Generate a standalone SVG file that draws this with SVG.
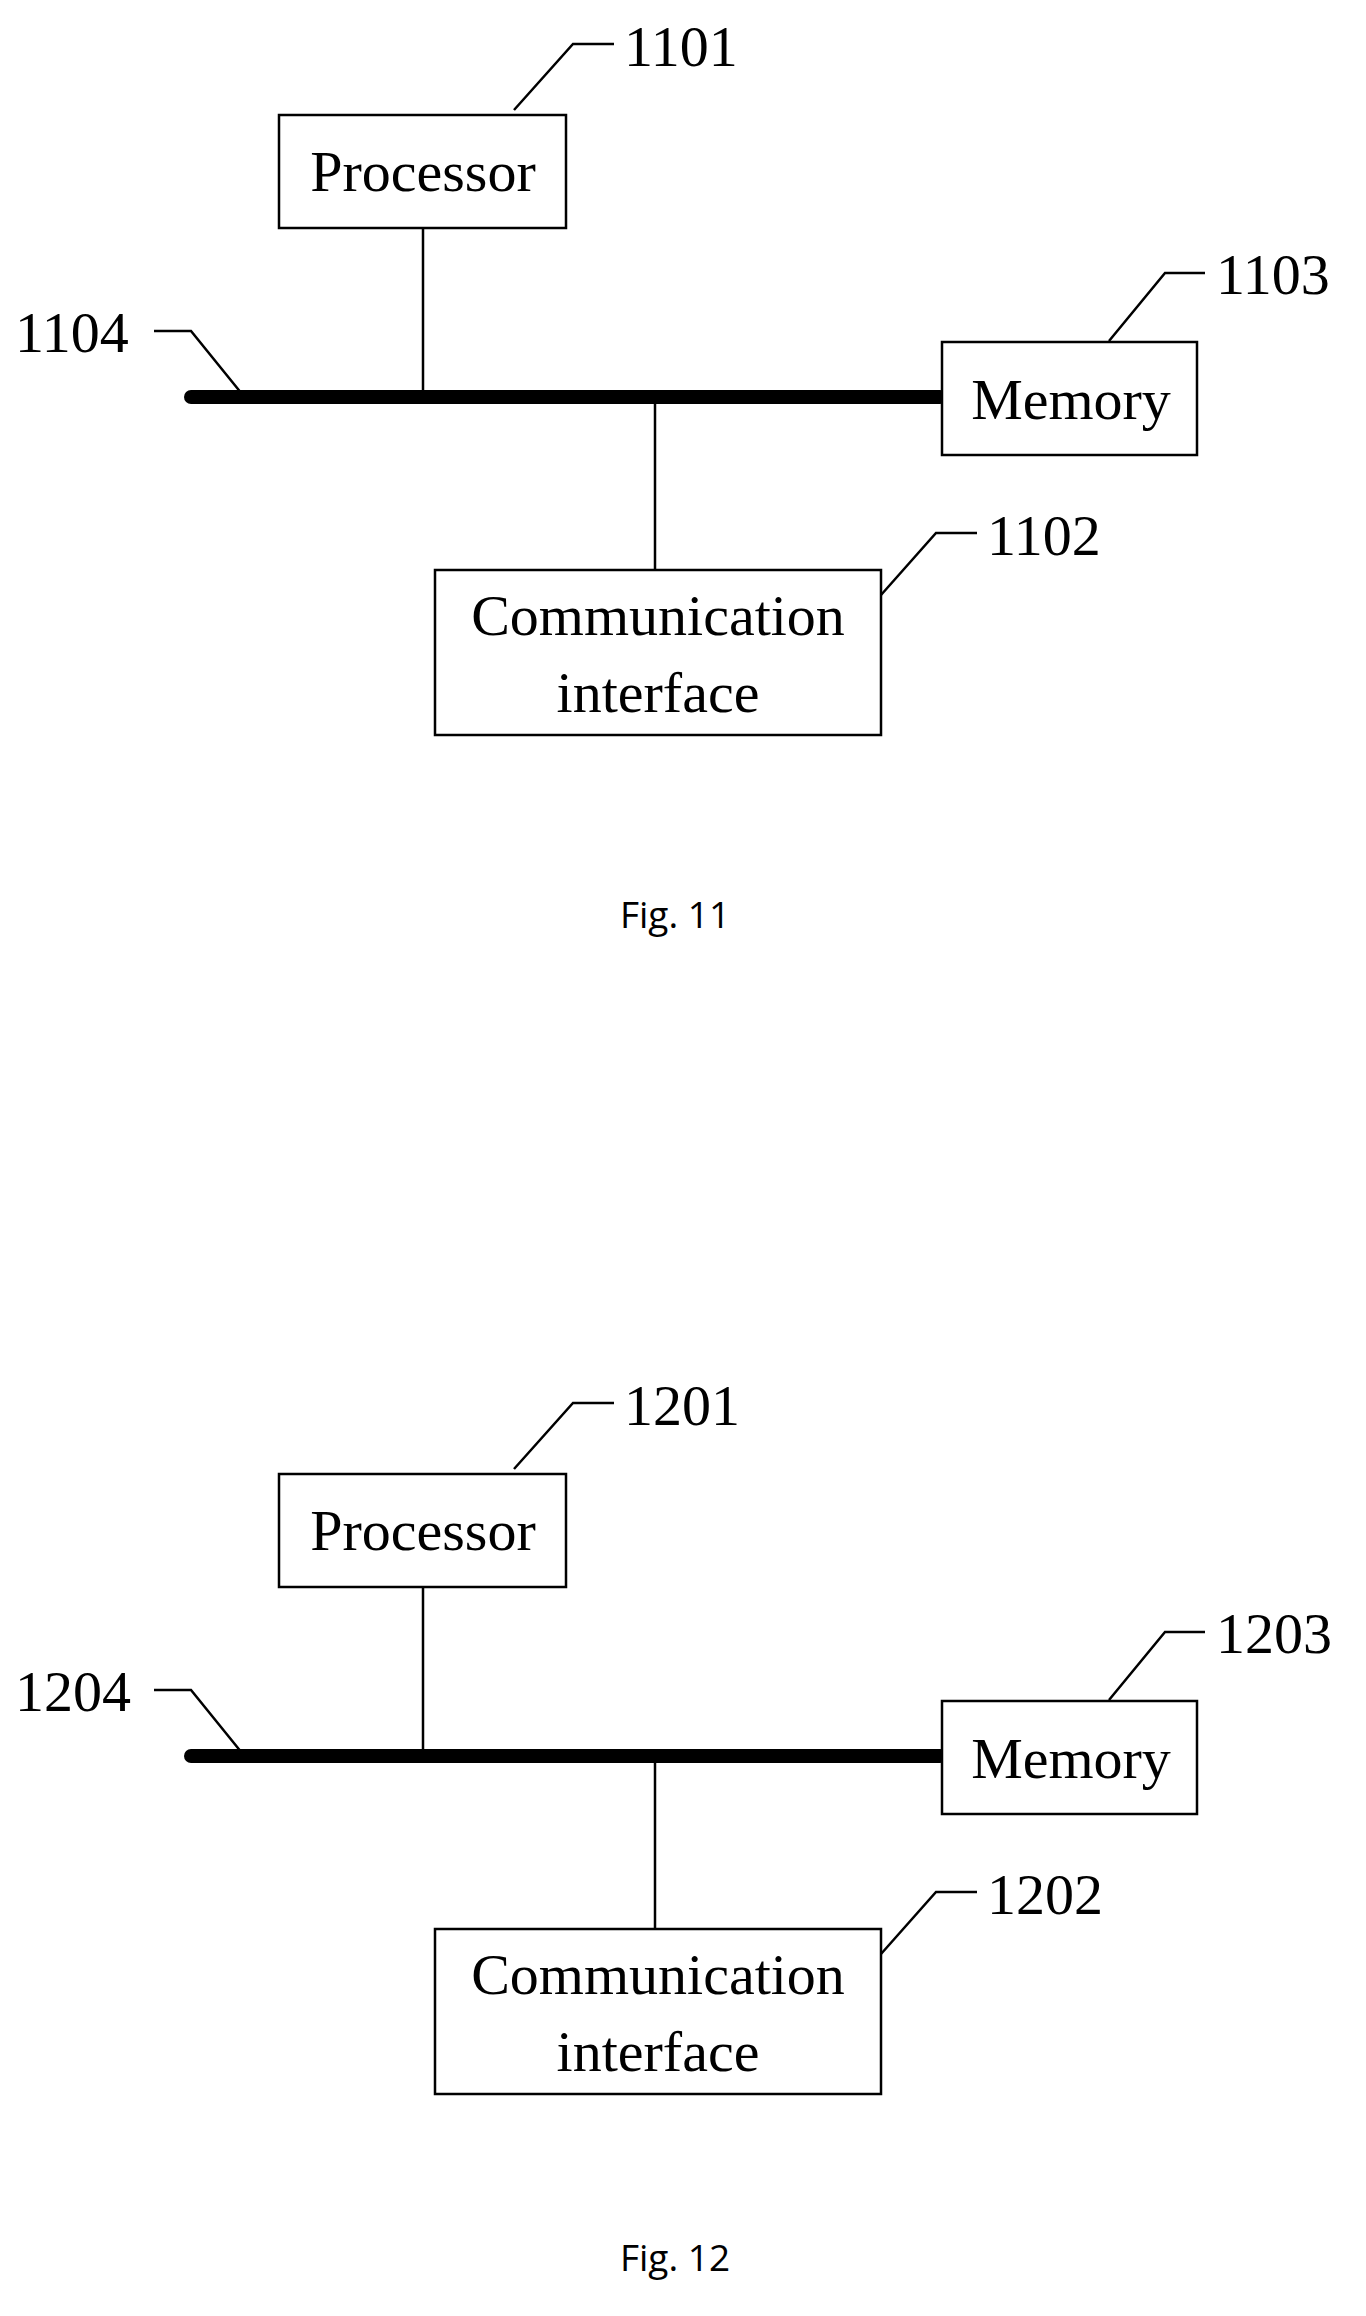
<svg xmlns="http://www.w3.org/2000/svg" width="1366" height="2316" viewBox="0 0 1366 2316">
<style>
.box{fill:#fff;stroke:#000;stroke-width:2.5}
.t{font-family:"Liberation Serif",serif;font-size:58px;fill:#000}
.c{font-family:"Open Sans","Liberation Sans",sans-serif;font-size:37px;fill:#000}
.ln{stroke:#000;stroke-width:2.5;fill:none}
.bus{stroke:#000;stroke-width:14;stroke-linecap:round}
</style>
<rect width="1366" height="2316" fill="#fff"/>
<g id="fig11">
<g id="connectors11">
<line class="ln" x1="423" y1="228" x2="423" y2="397"/>
<line class="ln" x1="655" y1="397" x2="655" y2="570"/>
<line class="bus" x1="191" y1="397" x2="940" y2="397"/>
<polyline class="ln" points="514,110 573,44 614,44"/>
<polyline class="ln" points="1109,341 1165,273 1205,273"/>
<polyline class="ln" points="154,331 191,331 242,394"/>
<polyline class="ln" points="881,595 936,533 977,533"/>
</g>
<g id="processor11"><rect class="box" x="279" y="115" width="287" height="113"/><text class="t" x="423" y="191" text-anchor="middle">Processor</text></g>
<g id="memory11"><rect class="box" x="942" y="342" width="255" height="113"/><text class="t" x="1071" y="419" text-anchor="middle">Memory</text></g>
<g id="comm11"><rect class="box" x="435" y="570" width="446" height="165"/><text class="t" x="658" y="635" text-anchor="middle">Communication</text><text class="t" x="658" y="712" text-anchor="middle">interface</text></g>
<text class="t" x="624" y="66">1101</text>
<text class="t" x="1216" y="294">1103</text>
<text class="t" x="15" y="352">1104</text>
<text class="t" x="987" y="555">1102</text>
<text class="c" x="675" y="928" text-anchor="middle">Fig. 11</text>
</g>
<g id="fig12" transform="translate(0,1359)">
<g id="connectors12">
<line class="ln" x1="423" y1="228" x2="423" y2="397"/>
<line class="ln" x1="655" y1="397" x2="655" y2="570"/>
<line class="bus" x1="191" y1="397" x2="940" y2="397"/>
<polyline class="ln" points="514,110 573,44 614,44"/>
<polyline class="ln" points="1109,341 1165,273 1205,273"/>
<polyline class="ln" points="154,331 191,331 242,394"/>
<polyline class="ln" points="881,595 936,533 977,533"/>
</g>
<g id="processor12"><rect class="box" x="279" y="115" width="287" height="113"/><text class="t" x="423" y="191" text-anchor="middle">Processor</text></g>
<g id="memory12"><rect class="box" x="942" y="342" width="255" height="113"/><text class="t" x="1071" y="419" text-anchor="middle">Memory</text></g>
<g id="comm12"><rect class="box" x="435" y="570" width="446" height="165"/><text class="t" x="658" y="635" text-anchor="middle">Communication</text><text class="t" x="658" y="712" text-anchor="middle">interface</text></g>
<text class="t" x="624" y="66">1201</text>
<text class="t" x="1216" y="294">1203</text>
<text class="t" x="15" y="352">1204</text>
<text class="t" x="987" y="555">1202</text>
</g>
<text class="c" x="675" y="2271" text-anchor="middle">Fig. 12</text>
</svg>
